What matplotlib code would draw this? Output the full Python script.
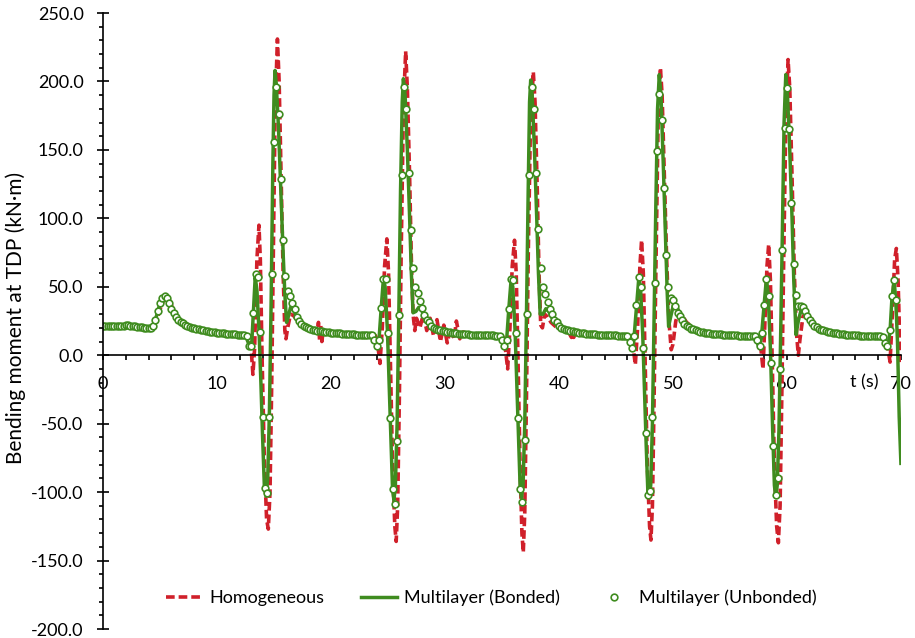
import numpy as np
import matplotlib
matplotlib.use('Agg')
import matplotlib.pyplot as plt
from matplotlib.ticker import MultipleLocator, FuncFormatter

plt.rcParams['font.family'] = ['Lato', 'DejaVu Sans']

# Multilayer (Unbonded): one sample every 0.2 s, t = 0 ... 69.6 s
unb_step = 0.2
unbonded = [
    21.5, 21.5, 21.5, 21.5, 21.5, 21.6, 21.6, 21.6, 21.7, 21.7,
    21.8, 21.8, 21.7, 21.5, 21.2, 20.9, 20.6, 20.3, 20.1, 19.9,
    19.8, 19.8, 21.0, 26.0, 32.0, 38.0, 41.5, 43.0, 41.5, 38.0,
    34.0, 30.5, 28.0, 26.0, 24.5, 23.3, 22.3, 21.5, 20.8, 20.2,
    19.7, 19.2, 18.8, 18.4, 18.1, 17.8, 17.5, 17.3, 17.0, 16.8,
    16.6, 16.4, 16.2, 16.0, 15.8, 15.7, 15.5, 15.4, 15.2, 15.1,
    15.0, 14.8, 14.6, 13.7, 6.5, 6.5, 31.0, 59.0, 57.0, 17.0,
    -45.0, -97.0, -101.0, -45.0, 59.0, 156.0, 196.0, 176.0, 129.0, 84.0,
    58.0, 47.0, 43.0, 38.0, 34.0, 28.0, 25.0, 23.0, 21.5, 20.5,
    19.8, 19.2, 18.7, 18.3, 18.0, 17.7, 17.4, 17.2, 17.0, 16.8,
    16.6, 16.4, 16.2, 16.1, 15.9, 15.8, 15.6, 15.5, 15.4, 15.3,
    15.2, 15.1, 15.0, 14.9, 14.8, 14.7, 14.6, 14.5, 14.5, 11.3,
    6.4, 11.3, 34.4, 56.0, 55.6, 16.0, -46.0, -98.0, -109.0, -63.0,
    29.6, 131.7, 196.0, 180.0, 133.0, 91.6, 63.6, 50.2, 45.4, 39.3,
    34.4, 29.6, 26.0, 24.0, 21.5, 20.0, 19.3, 18.7, 18.2, 17.8,
    17.4, 17.1, 16.8, 16.5, 16.3, 16.0, 15.8, 15.6, 15.5, 15.3,
    15.2, 15.1, 15.0, 14.9, 14.8, 14.8, 14.7, 14.6, 14.6, 14.5,
    14.5, 14.5, 14.4, 14.4, 14.4, 11.3, 6.4, 11.3, 34.0, 56.0,
    55.0, 16.0, -46.0, -98.0, -107.0, -62.0, 30.0, 132.0, 196.0, 180.0,
    133.0, 92.0, 64.0, 50.0, 45.0, 39.0, 34.0, 30.0, 26.0, 24.0,
    21.5, 20.0, 19.3, 18.7, 18.2, 17.8, 17.4, 17.1, 16.8, 16.5,
    16.3, 16.0, 15.8, 15.6, 15.5, 15.3, 15.2, 15.1, 15.0, 14.9,
    14.8, 14.7, 14.6, 14.6, 14.5, 14.5, 14.4, 14.4, 14.3, 14.3,
    13.7, 10.0, 5.2, 13.7, 37.0, 57.0, 50.0, 5.0, -57.0, -102.0,
    -99.0, -45.0, 53.0, 149.0, 191.0, 172.0, 122.0, 73.0, 50.0, 42.0,
    40.0, 36.0, 31.0, 28.5, 25.5, 23.0, 21.5, 20.4, 19.5, 18.8,
    18.2, 17.7, 17.3, 16.9, 16.6, 16.3, 16.0, 15.8, 15.6, 15.4,
    15.3, 15.2, 15.0, 14.9, 14.8, 14.7, 14.6, 14.5, 14.5, 14.4,
    14.4, 14.3, 14.3, 14.2, 14.2, 14.1, 13.8, 11.0, 6.4, 16.0,
    37.0, 56.0, 43.0, -6.0, -66.0, -102.0, -90.0, -10.0, 77.0, 166.0,
    195.0, 165.0, 111.0, 67.0, 44.0, 36.0, 36.0, 35.0, 32.0, 29.0,
    26.0, 23.5, 21.5, 20.3, 19.4, 18.7, 18.1, 17.6, 17.2, 16.8,
    16.5, 16.2, 15.9, 15.7, 15.5, 15.3, 15.1, 15.0, 14.8, 14.7,
    14.6, 14.5, 14.4, 14.3, 14.2, 14.1, 14.0, 14.0, 13.9, 13.8,
    13.8, 13.7, 13.3, 8.9, 6.4, 18.6, 43.0, 55.0, 40.0,
]
unb_t = np.arange(len(unbonded)) * unb_step

# Multilayer (Bonded)
bonded_t = [
    0, 1, 2, 2.5, 3, 3.6, 4.2, 4.45, 4.7, 5.0, 5.25, 5.45, 5.7, 6.0, 6.3, 6.7, 7.2, 8.0, 9.0, 10.0, 11.0, 12.0, 12.5,
    12.7, 12.9, 13.05, 13.2, 13.35, 13.5, 13.7, 13.85, 14.0, 14.15, 14.3, 14.45, 14.6, 14.75, 14.9, 15.0, 15.09,
    15.2, 15.4, 15.6, 15.8, 15.95, 16.1, 16.25, 16.45, 16.7, 17.0, 17.4, 18.0, 19.0, 20.0, 21.0, 22.0, 23.0, 23.6,
    23.8, 24.0, 24.2, 24.4, 24.6, 24.75, 24.95, 25.1, 25.25, 25.4, 25.52, 25.65, 25.8, 25.95, 26.1, 26.25, 26.35,
    26.5, 26.7, 26.9, 27.05, 27.2, 27.45, 27.7, 28.0, 28.3, 28.7, 29.3, 30.0, 31.0, 32.0, 33.0, 34.0, 34.8,
    35.0, 35.2, 35.4, 35.6, 35.8, 35.95, 36.15, 36.3, 36.45, 36.6, 36.72, 36.85, 37.0, 37.15, 37.3, 37.42, 37.52,
    37.65, 37.85, 38.05, 38.2, 38.35, 38.6, 38.85, 39.1, 39.4, 39.8, 40.4, 41.0, 42.0, 43.0, 44.0, 45.0, 45.9,
    46.1, 46.35, 46.55, 46.8, 47.0, 47.15, 47.35, 47.5, 47.65, 47.8, 47.92, 48.05, 48.2, 48.35, 48.5, 48.65, 48.8,
    48.95, 49.15, 49.35, 49.5, 49.62, 49.8, 50.05, 50.3, 50.6, 51.0, 51.6, 52.5, 53.5, 54.5, 55.5, 56.5, 57.1,
    57.3, 57.55, 57.75, 58.0, 58.2, 58.35, 58.55, 58.75, 58.9, 59.02, 59.15, 59.3, 59.45, 59.6, 59.75, 59.9,
    60.05, 60.25, 60.45, 60.6, 60.8, 61.0, 61.3, 61.55, 61.85, 62.3, 62.9, 63.8, 65.0, 66.0, 67.0, 68.0, 68.4,
    68.6, 68.85, 69.05, 69.2, 69.4, 69.55, 69.7, 69.85, 70.0,
]
bonded_m = [
    21.5, 21.6, 21.8, 21.6, 20.9, 20.1, 19.8, 21.5, 29, 38, 42, 43, 41, 34, 29, 25.3, 22.3, 19.7, 17.8, 16.6, 15.7, 15.0, 14.5,
    10, 6, 9, 33, 57, 48, 15, -20, -60, -95, -103, -90, -40, 40, 140, 190, 208,
    198, 165, 120, 75, 45, 24, 28, 35, 33, 28, 23.5, 20, 17.5, 16.5, 15.7, 15.1, 14.6, 14.4,
    11, 6.5, 10, 34, 56, 50, 18, -20, -60, -98, -106, -95, -50, 30, 120, 185, 202,
    190, 150, 100, 60, 31, 32, 35, 32, 28, 23, 19.5, 17.5, 16, 15.2, 14.8, 14.5, 14.4,
    11, 6.5, 10, 34, 55, 50, 18, -20, -60, -98, -104, -95, -50, 30, 120, 185, 201,
    190, 150, 100, 60, 30, 30, 34, 32, 27, 23, 19.5, 17.5, 16, 15.2, 14.8, 14.5, 14.3,
    11, 5.5, 9, 35, 56, 50, 15, -25, -65, -100, -104, -95, -50, 30, 110, 180, 205,
    190, 140, 85, 45, 21, 28, 37, 36, 31, 25, 20.5, 17.5, 16, 15.2, 14.7, 14.4, 14.2,
    11, 6, 12, 37, 56, 45, 5, -55, -95, -104, -95, -55, 15, 90, 170, 205,
    190, 150, 100, 55, 15, 25, 35, 33, 28, 23, 19.5, 17, 15.5, 14.8, 14.4, 14.1, 13.8,
    10, 6, 18, 40, 55, 40, 10, -45, -79,
]

# Homogeneous
homog_t = [
    0, 1, 2, 2.5, 3, 3.6, 4.2, 4.5, 4.8, 5.1, 5.4, 5.65, 5.9, 6.2, 6.6, 7.0, 8.0, 9.0, 10.0, 11.0, 12.0, 12.8,
    12.95, 13.15, 13.3, 13.5, 13.68, 13.8, 13.95, 14.15, 14.35, 14.5, 14.65, 14.8, 14.95, 15.1, 15.3, 15.45,
    15.6, 15.8, 15.95, 16.05, 16.2, 16.45, 16.7, 17.0, 17.4, 18.0, 18.8, 18.9, 19.0, 19.1, 19.2, 19.3,
    20.0, 21.0, 22.0, 23.0, 23.9,
    24.05, 24.3, 24.5, 24.7, 24.9, 25.05, 25.2, 25.4, 25.6, 25.72, 25.85, 26.0, 26.15, 26.35, 26.55, 26.7,
    26.9, 27.05, 27.2, 27.35, 27.5, 27.8, 28.1, 28.4, 28.7, 29.0, 29.3, 29.6, 29.9, 30.2, 30.5, 30.8, 31.0,
    31.3, 31.6, 32.0, 33.0, 34.0, 35.0,
    35.2, 35.5, 35.7, 35.9, 36.1, 36.25, 36.4, 36.6, 36.75, 36.87, 37.0, 37.15, 37.3, 37.5, 37.75, 37.9,
    38.1, 38.25, 38.4, 38.55, 38.75, 39.0, 39.3, 39.7, 40.2, 40.8, 41.1, 41.2, 41.3, 41.4, 41.6, 42.5, 43.5,
    44.5, 45.5, 46.2,
    46.45, 46.7, 46.9, 47.1, 47.25, 47.4, 47.55, 47.75, 47.95, 48.07, 48.2, 48.35, 48.5, 48.7, 48.9, 49.05,
    49.25, 49.45, 49.65, 49.85, 50.0, 50.25, 50.5, 50.8, 51.2, 51.8, 52.5, 53.5, 54.5, 55.5, 56.5, 57.4,
    57.65, 57.9, 58.05, 58.25, 58.4, 58.55, 58.7, 58.9, 59.1, 59.25, 59.4, 59.55, 59.7, 59.9, 60.1, 60.25,
    60.45, 60.65, 60.85, 61.0, 61.15, 61.4, 61.7, 62.0, 62.4, 63.0, 64.0, 65.0, 66.0, 67.0, 68.0, 68.6,
    68.8, 69.05, 69.25, 69.45, 69.6, 69.75, 69.9, 70.0,
]
homog_m = [
    21.5, 21.6, 21.8, 21.6, 20.9, 20.1, 19.8, 21.5, 28, 36, 41.5, 43, 39, 32, 26.5, 23.5, 19.8, 17.8, 16.6, 15.7, 15.0, 14.3,
    10, -14, 5, 70, 95, 70, 0, -75, -120, -127, -100, -20, 80, 180, 231, 200,
    140, 60, 18, 12, 20, 30, 29, 26, 22.5, 19.5, 17.5, 24, 11, 22, 10, 17,
    16.5, 15.7, 15.1, 14.6, 14.3,
    11, -6, 20, 65, 85, 60, 0, -80, -125, -136, -110, -30, 70, 180, 222, 195,
    130, 70, 30, 18, 27, 20, 30, 18, 27, 14, 26, 10, 22, 9, 20, 12, 25,
    12, 17, 15.5, 14.9, 14.5, 14.3,
    12, -10, 20, 65, 84, 60, 0, -85, -130, -144, -115, -30, 70, 170, 207, 185,
    120, 60, 22, 20, 30, 28, 24, 21, 19, 17.5, 13, 19, 13, 18, 16.5, 15.5, 15.0,
    14.6, 14.3, 14.2,
    10, -7, 20, 65, 84, 60, 0, -80, -125, -135, -110, -30, 60, 170, 210, 190,
    130, 70, 25, 4, 8, 25, 32, 29, 24, 20, 17.5, 16, 15.2, 14.7, 14.4, 14.2,
    10, -10, 20, 65, 81, 55, 0, -80, -125, -137, -110, -30, 60, 170, 216, 195,
    130, 60, 15, 0, 12, 28, 32, 28, 23.5, 20, 17, 15.5, 14.8, 14.4, 14.1, 14,
    8, -5, 30, 70, 78, 55, 10, -5,
]

red = '#d0202a'
green = '#3f8c1f'

fig = plt.figure(figsize=(9.15, 6.38), dpi=100)
ax = fig.add_axes([0.1126, 0.0141, 0.872, 0.9655])

ax.plot(homog_t, homog_m, color=red, lw=2.6, dashes=(2.4, 1.1), label='Homogeneous')
ax.plot(bonded_t, bonded_m, color=green, lw=2.5, label='Multilayer (Bonded)')
ax.plot(unb_t, unbonded, ls='none', marker='o', ms=4.8, mfc='white', mec=green, mew=1.2,
        label='Multilayer (Unbonded)')

ax.set_xlim(0, 70)
ax.set_ylim(-200, 250)
ax.spines['top'].set_visible(False)
ax.spines['right'].set_visible(False)
ax.spines['bottom'].set_position(('data', 0))
for s in ('left', 'bottom'):
    ax.spines[s].set_linewidth(1.2)

ax.xaxis.set_major_locator(MultipleLocator(10))
ax.xaxis.set_minor_locator(MultipleLocator(2))
ax.yaxis.set_major_locator(MultipleLocator(50))
ax.yaxis.set_minor_locator(MultipleLocator(10))
ax.yaxis.set_major_formatter(FuncFormatter(lambda v, p: f'{v:.1f}'))
ax.xaxis.set_major_formatter(FuncFormatter(lambda v, p: f'{v:.0f}'))

ax.tick_params(axis='y', which='major', direction='inout', length=8, width=1.2, pad=10, labelsize=13)
ax.tick_params(axis='y', which='minor', direction='out', length=3, width=1.2)
ax.tick_params(axis='x', which='both', direction='out', length=3.6, width=1.2, pad=11, labelsize=13)

ax.text(66.8, -20, 't (s)', ha='center', va='center', fontsize=13)
fig.text(16 / 915, 1 - 318 / 638, 'Bending moment at TDP (kN\u00b7m)', rotation=90,
         ha='center', va='center', fontsize=15)

ax.legend(loc='center', bbox_to_anchor=(0.487, 0.05), ncol=3, frameon=False, fontsize=13,
          handlelength=2.0, handletextpad=0.4, columnspacing=2.0)

fig.savefig('out.png', dpi=100)
